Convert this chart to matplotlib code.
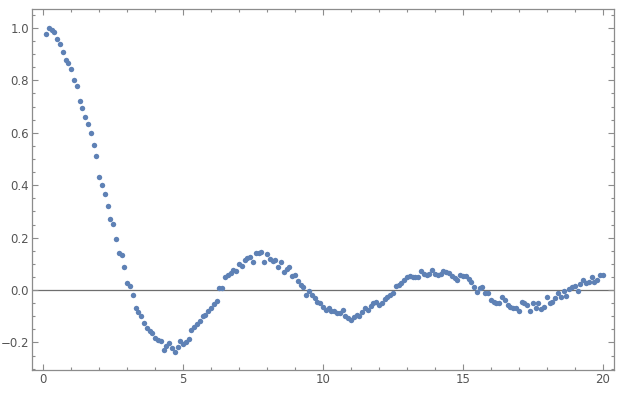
import numpy as np
import matplotlib
matplotlib.use('Agg')
import matplotlib.pyplot as plt
from matplotlib.ticker import MultipleLocator

# valores, x = 0.1 ... 20.0 en pasos de 0.1
x = np.round(np.arange(1, 201) * 0.1, 1)
y = [
    0.978, 1.001, 0.991, 0.986, 0.959, 0.940, 0.907, 0.878, 0.865, 0.845,
    0.803, 0.780, 0.720, 0.694, 0.660, 0.634, 0.600, 0.553, 0.511, 0.432,
    0.400, 0.366, 0.321, 0.270, 0.252, 0.195, 0.140, 0.132, 0.088, 0.026,
    0.017, -0.020, -0.070, -0.084, -0.099, -0.126, -0.145, -0.156, -0.164, -0.184,
    -0.192, -0.196, -0.229, -0.214, -0.201, -0.222, -0.238, -0.219, -0.193, -0.204,
    -0.200, -0.188, -0.153, -0.140, -0.128, -0.118, -0.099, -0.097, -0.080, -0.067,
    -0.052, -0.042, 0.006, 0.009, 0.051, 0.057, 0.066, 0.076, 0.072, 0.100,
    0.093, 0.114, 0.121, 0.127, 0.106, 0.140, 0.142, 0.145, 0.106, 0.137,
    0.120, 0.112, 0.115, 0.089, 0.106, 0.070, 0.079, 0.087, 0.053, 0.056,
    0.034, 0.018, 0.011, -0.018, -0.004, -0.019, -0.032, -0.045, -0.051, -0.066,
    -0.076, -0.070, -0.079, -0.079, -0.087, -0.089, -0.076, -0.099, -0.105, -0.115,
    -0.104, -0.095, -0.099, -0.085, -0.070, -0.076, -0.062, -0.051, -0.045, -0.057,
    -0.048, -0.036, -0.025, -0.019, -0.013, 0.015, 0.019, 0.026, 0.038, 0.051,
    0.053, 0.050, 0.051, 0.048, 0.074, 0.061, 0.057, 0.060, 0.076, 0.061,
    0.057, 0.061, 0.074, 0.068, 0.064, 0.053, 0.045, 0.038, 0.057, 0.055,
    0.053, 0.041, 0.032, 0.010, -0.006, 0.006, 0.010, -0.013, -0.010, -0.038,
    -0.045, -0.048, -0.048, -0.025, -0.038, -0.058, -0.066, -0.070, -0.070, -0.079,
    -0.045, -0.048, -0.057, -0.079, -0.051, -0.070, -0.051, -0.074, -0.064, -0.028,
    -0.051, -0.045, -0.030, -0.010, -0.028, -0.003, -0.023, 0.003, 0.010, 0.015,
    -0.003, 0.023, 0.038, 0.026, 0.030, 0.051, 0.032, 0.040, 0.057, 0.057,
]

color_punto = '#5e81b5'
gris = '#8c8c8c'

fig = plt.figure(figsize=(6.3, 3.97), dpi=100)
ax = fig.add_axes([32 / 630, 1 - 370 / 397, 582 / 630, 360.7 / 397])

ax.axhline(0, color='#6e6e6e', lw=0.9, zorder=1)
ax.plot(x, y, 'o', color=color_punto, ms=3.9, mec='none', zorder=3)

ax.set_xlim(-0.4, 20.4)
ax.set_ylim(-0.305, 1.071)

ax.xaxis.set_major_locator(MultipleLocator(5))
ax.xaxis.set_minor_locator(MultipleLocator(1))
ax.yaxis.set_major_locator(MultipleLocator(0.2))
ax.yaxis.set_minor_locator(MultipleLocator(0.05))
ax.yaxis.set_major_formatter(plt.FuncFormatter(
    lambda v, p: ('%.1f' % v).replace('-', '\u2212')))

for s in ax.spines.values():
    s.set_color(gris)
    s.set_linewidth(0.9)

ax.tick_params(which='both', direction='in', top=True, right=True,
               color=gris, width=0.8, labelcolor='#555555', labelsize=8.5)
ax.tick_params(which='major', length=4.5, pad=2)
ax.tick_params(which='minor', length=2.5)

plt.savefig('out.png', dpi=100)
